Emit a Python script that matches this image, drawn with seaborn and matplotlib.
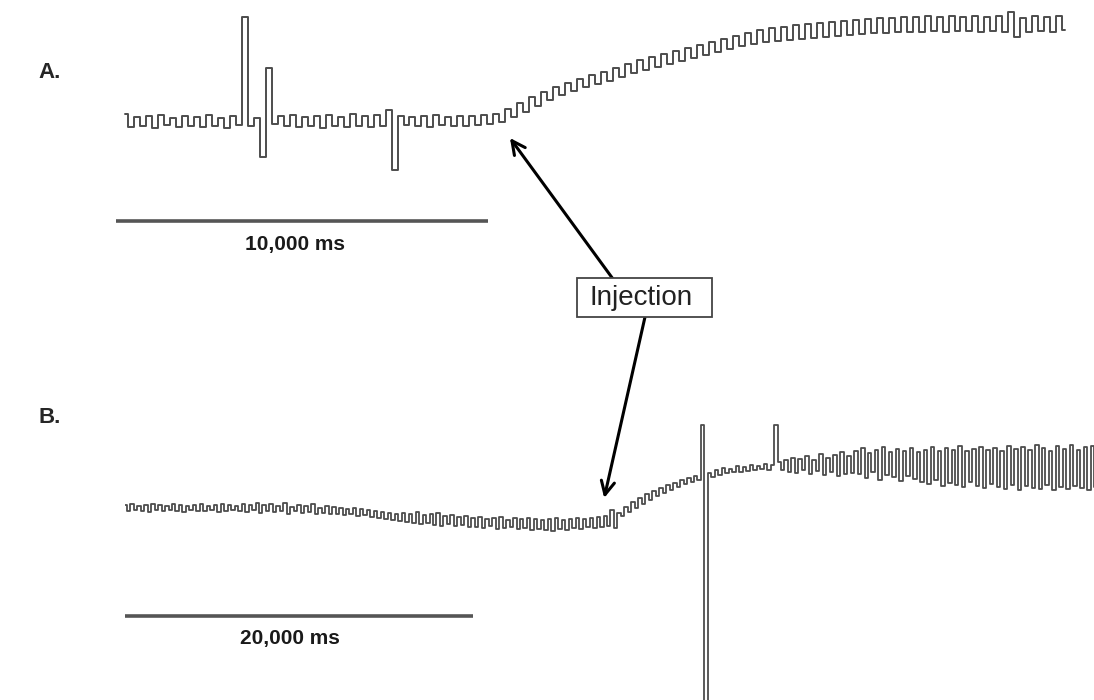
import numpy as np
import pandas as pd
import matplotlib.pyplot as plt
from matplotlib.patches import Rectangle
import seaborn as sns

# trace A: one sample every 161 ms, starting 242 ms after the scale bar
a_dt = 161
a_t0 = 242
a_trace = [
    16, 3, 13, 4, 14, 2, 15, 5, 12, 3, 14, 4, 13, 3, 15, 4, 12, 2, 14, 5,
    113, 4, 12, -27, 62, 6,
    14, 4, 15, 3, 13, 4, 14, 2, 15, 4, 13, 3, 16, 4, 14, 3, 15, 4, 20, -40,
    14, 5, 13, 4, 14, 3, 15, 5, 13, 4, 14, 4, 14, 5, 15, 6, 16, 8,
    21, 13, 27, 18, 33, 24, 38, 30, 43, 35, 47, 39, 51, 43, 55, 46, 58, 49, 62, 53,
    66, 57, 70, 60, 73, 63, 76, 66, 79, 69, 82, 72, 85, 75, 88, 78, 91, 81, 94, 84,
    97, 86, 100, 88, 102, 89, 103, 90, 105, 91, 106, 92, 107, 93, 108, 94, 109, 95,
    110, 96, 111, 97, 112, 97, 112, 98,
    113, 98, 113, 98, 114, 99, 113, 98, 114, 99, 113, 99, 114, 98, 113, 99, 114, 98,
    118, 93, 112, 98, 114, 99, 113, 98, 114, 100,
]

# trace B: one sample every 200 ms
b_dt = 200
b_trace = [
    25, 19, 26, 20, 24, 19, 25, 18, 26, 20, 25, 19, 24, 20, 26, 19, 25, 18, 24, 20,
    25, 19, 26, 19, 24, 20, 25, 18, 26, 19, 25, 20, 24, 19, 26, 18, 25, 20, 27, 17,
    25, 19, 26, 18, 24, 19, 27, 16, 23, 19, 25, 17, 24, 18, 26, 16, 22, 17, 24, 16,
    23, 16, 22, 15, 21, 16, 22, 14, 21, 15, 20, 13,
    19, 12, 18, 11, 17, 10, 16, 9,
    17, 8, 16, 7, 18, 6, 15, 7, 16, 5, 17, 4, 14, 6, 15, 4, 13, 5, 14, 3,
    12, 3, 13, 2, 11, 4, 12, 1, 13, 2, 10, 3, 12, 1, 11, 2, 12, 0, 11, 1,
    10, 0, 11, -1, 12, 1, 10, 0, 11, 2, 12, 1, 11, 3, 12, 2, 13, 3, 14, 4,
    20, 2, 17, 14, 23, 18, 28, 22, 32, 26, 36, 30, 39, 34, 42, 37, 45, 40, 47, 43,
    50, 46, 52, 48, 54, 50,
    105, -200,
    57, 53, 60, 55, 62, 57, 61, 58, 64, 58, 63, 59, 65, 60, 64, 61, 66, 60, 65,
    105,
    68, 60, 70, 58, 72, 57, 71, 60, 74, 56, 70, 59, 76, 55, 72, 58, 75, 54, 78, 56, 74, 57,
    79, 56, 82, 52, 77, 58, 80, 50, 83, 55, 78, 53, 81, 49, 79, 54, 82, 51, 78, 48,
    80, 46, 83, 50, 79, 44, 82, 47, 80, 45, 84, 43, 79, 48, 81, 44, 83, 42, 80, 46,
    82, 43, 79, 41, 84, 45, 81, 40, 83, 44, 80, 42, 85, 41, 82, 45, 79, 40, 84, 43,
    81, 41, 85, 44, 80, 42, 83, 40, 84, 43, 81,
]

scale_a = 10000
scale_b = 20000

W, H = 1094, 700

sns.set_style('white')
plt.rcParams['font.family'] = ['Liberation Sans', 'DejaVu Sans']

df_a = pd.DataFrame({'t': a_t0 + a_dt * np.arange(len(a_trace)), 'v': a_trace})
df_b = pd.DataFrame({'t': b_dt * np.arange(len(b_trace)), 'v': b_trace})

fig = plt.figure(figsize=(W / 100, H / 100), dpi=100)

# panel A: 372 px per 10 s
ax_a = fig.add_axes([116 / W, 1 - 260 / H, 978 / W, 260 / H])
sns.lineplot(data=df_a, x='t', y='v', ax=ax_a, color='#4d4d4d', lw=1.4,
             drawstyle='steps-mid', estimator=None, sort=False, errorbar=None)
ax_a.set_xlim(0, 978 * scale_a / 372)
ax_a.set_ylim(-130, 130)
ax_a.axis('off')

# panel B: 348 px per 20 s
ax_b = fig.add_axes([125 / W, 0, 969 / W, 320 / H])
sns.lineplot(data=df_b, x='t', y='v', ax=ax_b, color='#4d4d4d', lw=1.3,
             drawstyle='steps-mid', estimator=None, sort=False, errorbar=None)
ax_b.set_xlim(0, 969 * scale_b / 348)
ax_b.set_ylim(-170, 150)
ax_b.axis('off')

# scale bars
ax_a.plot([0, scale_a], [-91, -91], color='#555555', lw=2.6, solid_capstyle='butt')
ax_a.text(scale_a * 0.48, -120, '10,000 ms', ha='center', va='baseline',
          fontsize=15, fontweight='bold', color='#1a1a1a')
ax_b.plot([0, scale_b], [-86, -86], color='#555555', lw=2.6, solid_capstyle='butt')
ax_b.text(scale_b * 0.475, -114, '20,000 ms', ha='center', va='baseline',
          fontsize=15, fontweight='bold', color='#1a1a1a')

# panel letters
fig.text(38 / W, 1 - 78 / H, 'A.', fontsize=16, fontweight='bold', va='baseline')
fig.text(38 / W, 1 - 423 / H, 'B.', fontsize=16, fontweight='bold', va='baseline')

# injection label and arrows
arrow = dict(arrowstyle='->', color='black', lw=2.2, mutation_scale=24,
             shrinkA=0, shrinkB=0)
ax_a.annotate('', xy=(10590, -8), xytext=(613, H - 279),
              textcoords='figure pixels', arrowprops=arrow)
ax_b.annotate('', xy=(27540, 32), xytext=(645, H - 317),
              textcoords='figure pixels', arrowprops=arrow)

fig.add_artist(Rectangle((577 / W, 1 - 317 / H), 135 / W, 39 / H,
                         transform=fig.transFigure, fill=True, fc='white',
                         ec='#444444', lw=1.3, zorder=5))
fig.text(641 / W, 1 - 305 / H, 'Injection', ha='center', va='baseline',
         fontsize=20, color='#222222', zorder=6)

fig.savefig('out.png', dpi=100)
